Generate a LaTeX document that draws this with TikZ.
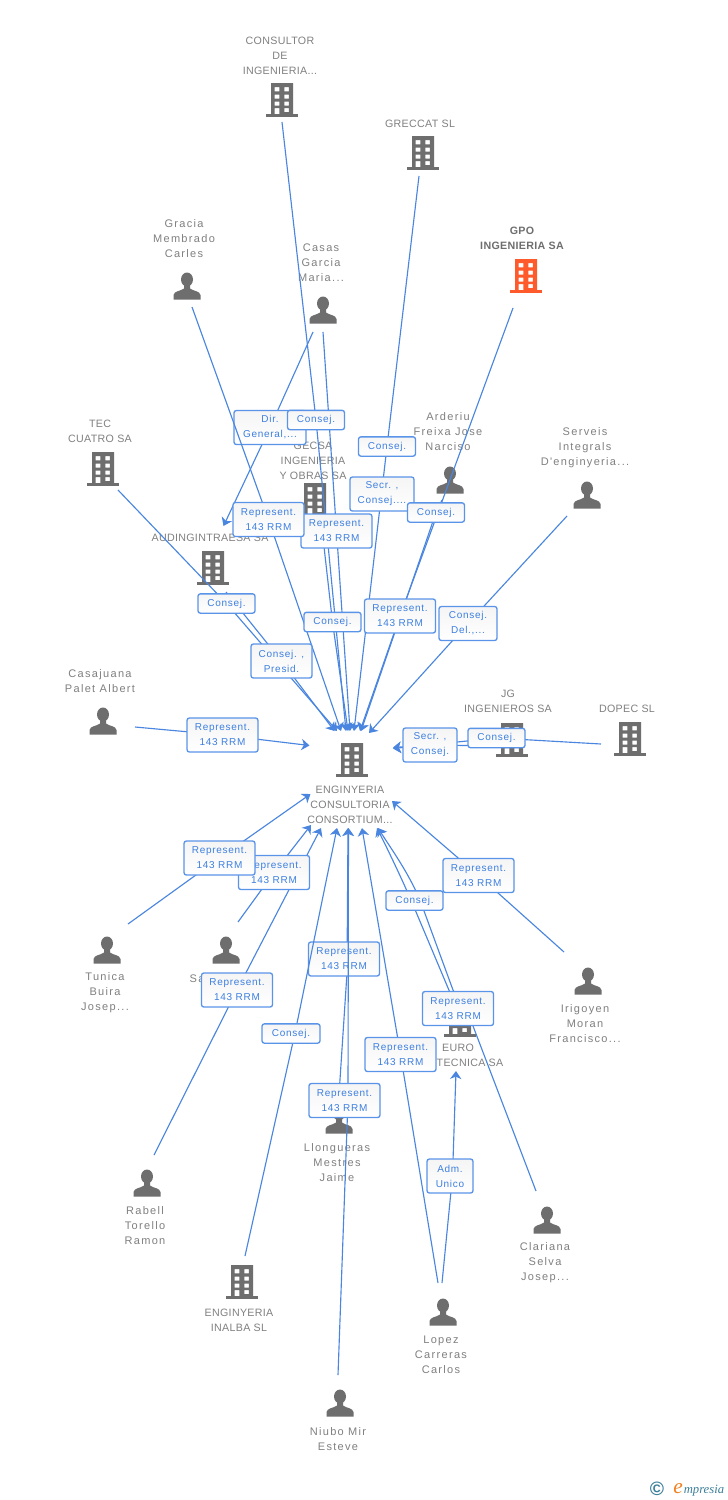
\documentclass[tikz,border=0pt]{standalone}
\usepackage{fontspec}
\setmainfont{Liberation Sans}
\newfontfamily\entfont[LetterSpace=12]{Liberation Sans}
\newfontfamily\cofont[LetterSpace=3]{Liberation Sans}
\newfontfamily\relfont[LetterSpace=7]{Liberation Sans}
\newfontfamily\logofont{Liberation Serif}
\usetikzlibrary{arrows.meta}
\definecolor{icongray}{HTML}{6E6E6E}
\definecolor{txtgray}{HTML}{808080}
\definecolor{gpoorange}{HTML}{FF5A2C}
\definecolor{flowblue}{HTML}{4A86E0}
\definecolor{boxblue}{HTML}{5A94E8}
\definecolor{relblue}{HTML}{3D7FE0}
\definecolor{logoteal}{HTML}{3B7F9A}
\definecolor{logoorange}{HTML}{F08020}
\pgfdeclarelayer{edgesA}\pgfdeclarelayer{boxesA}\pgfdeclarelayer{edgesB}\pgfdeclarelayer{boxesB}
\pgfsetlayers{main,edgesA,boxesA,edgesB,boxesB}
\tikzset{
  x=0.75pt,y=-0.75pt,
  buildingicon/.style={minimum width=24pt,minimum height=25.5pt,inner sep=0pt,outer sep=0pt,
    path picture={
      \begin{scope}[shift={(path picture bounding box.center)}]
        \fill[#1,even odd rule] (-11,-17) rectangle (11,14)
          (-7.3,-13) rectangle (-2.7,-8.7) (2.3,-13) rectangle (6.9,-8.7)
          (-7.3,-5.5) rectangle (-2.7,-1.5) (2.3,-5.5) rectangle (6.9,-1.5)
          (-7.3,1.5) rectangle (-2.7,5.5) (2.3,1.5) rectangle (6.9,5.5)
          (-7.3,8) rectangle (-2.7,14) (2.3,8) rectangle (6.9,12);
        \fill[#1] (-16,14) rectangle (16,17);
      \end{scope}}},
  personicon/.style={minimum width=21pt,minimum height=21pt,inner sep=0pt,outer sep=0pt,
    path picture={
      \begin{scope}[shift={(path picture bounding box.center)}]
        \fill[icongray] (0,-6.5) ellipse (6 and 7);
        \fill[icongray] (-13.5,13.5) -- (-13.5,9) .. controls (-13,5) and (-6,5) .. (-3,2.5)
          -- (-3,-2) -- (3,-2) -- (3,2.5) .. controls (6,5) and (13,5) .. (13.5,9) -- (13.5,13.5) -- cycle;
      \end{scope}}},
  enttext/.style={font=\entfont\fontsize{8.25pt}{11.25pt}\selectfont,text=txtgray,align=center,inner sep=0pt,yshift=-0.5pt},
  cotext/.style={enttext,font=\cofont\fontsize{8pt}{11.25pt}\selectfont},
  relbase/.style={draw=boxblue,line width=1pt,rounded corners=1.8pt,top color=black!4,bottom color=white,
    inner sep=0pt,text=relblue,align=center,font=\relfont\fontsize{7.5pt}{11.25pt}\selectfont},
  relone/.style={relbase,minimum width=#1*0.75pt,minimum height=14.5pt},
  reltwo/.style={relbase,minimum width=#1*0.75pt,minimum height=25.5pt},
  flow/.style={draw=flowblue,line width=0.85pt,line join=round,-{Stealth[length=6pt,width=8.5pt,inset=1.8pt]}},
}
\begin{document}
\begin{tikzpicture}
\useasboundingbox (0,0) rectangle (728,1500);
\fill[white] (0,0) rectangle (728,1500);
% entities
\node[buildingicon=icongray] (consultor) at (282,100) {};
\node[cotext] (consultor-t) at (280,55) {CONSULTOR\\DE\\INGENIERIA...};
\node[buildingicon=icongray] (greccat) at (423,153) {};
\node[cotext] (greccat-t) at (420,123) {GRECCAT SL};
\node[personicon] (gracia) at (187,286) {};
\node[enttext] (gracia-t) at (184,238) {Gracia\\Membrado\\Carles};
\node[buildingicon=gpoorange] (gpo) at (526,276) {};
\node[cotext,font=\cofont\bfseries\fontsize{8pt}{11.25pt}\selectfont,text=icongray] (gpo-t) at (522,237.5) {GPO\\INGENIERIA SA};
\node[personicon] (casas) at (323,310) {};
\node[enttext] (casas-t) at (321,262) {Casas\\Garcia\\Maria...};
\node[buildingicon=icongray] (teccuatro) at (103,469) {};
\node[cotext] (teccuatro-t) at (100,430.5) {TEC\\CUATRO SA};
\node[buildingicon=icongray] (gecsa) at (315,500) {};
\node[cotext] (gecsa-t) at (313,460) {GECSA\\INGENIERIA\\Y OBRAS SA};
\node[personicon] (arderiu) at (450,480) {};
\node[enttext] (arderiu-t) at (448,431) {Arderiu\\Freixa Jose\\Narciso};
\node[personicon] (serveis) at (587,495) {};
\node[enttext] (serveis-t) at (585,447) {Serveis\\Integrals\\D'enginyeria...};
\node[buildingicon=icongray] (audin) at (213,568) {};
\node[cotext] (audin-t) at (210,537) {AUDINGINTRAESA SA};
\node[personicon] (casajuana) at (103,721) {};
\node[enttext] (casajuana-t) at (100,680.5) {Casajuana\\Palet Albert};
\node[buildingicon=icongray] (target) at (352,760) {};
\node[cotext] (target-t) at (350,804) {ENGINYERIA\\CONSULTORIA\\CONSORTIUM...};
\node[buildingicon=icongray] (jg) at (512,740) {};
\node[cotext] (jg-t) at (508,700.5) {JG\\INGENIEROS SA};
\node[buildingicon=icongray] (dopec) at (630,739) {};
\node[cotext] (dopec-t) at (627,708) {DOPEC SL};
\node[personicon] (tunica) at (107,950) {};
\node[enttext] (tunica-t) at (105,992) {Tunica\\Buira\\Josep...};
\node[personicon] (sa) at (226,950) {};
\node[enttext] (sa-t) at (197,978) {Sa};
\node[personicon] (irigoyen) at (588,981) {};
\node[enttext] (irigoyen-t) at (585,1023) {Irigoyen\\Moran\\Francisco...};
\node[buildingicon=icongray] (euro) at (460,1020) {};
\node[cotext] (euro-t) at (470,1055) {EURO\hspace*{18pt}\\TECNICA SA};
\node[personicon] (llongueras) at (339,1120) {};
\node[enttext] (llongueras-t) at (337,1162) {Llongueras\\Mestres\\Jaime};
\node[personicon] (rabell) at (147,1183) {};
\node[enttext] (rabell-t) at (145,1225) {Rabell\\Torello\\Ramon};
\node[personicon] (clariana) at (547,1220) {};
\node[enttext] (clariana-t) at (545,1262) {Clariana\\Selva\\Josep...};
\node[buildingicon=icongray] (inalba) at (242,1282) {};
\node[cotext] (inalba-t) at (239,1319.5) {ENGINYERIA\\INALBA SL};
\node[personicon] (lopez) at (443,1312) {};
\node[enttext] (lopez-t) at (441,1354) {Lopez\\Carreras\\Carlos};
\node[personicon] (niubo) at (340,1403) {};
\node[enttext] (niubo-t) at (338,1438.5) {Niubo Mir\\Esteve};
% logo
\node[inner sep=0pt,text=logoteal,font=\bfseries\fontsize{14.5pt}{14.5pt}\selectfont] (logo-c) at (657,1488.5) {©};
\node[inner sep=0pt,text=logoorange,font=\logofont\itshape\fontsize{16pt}{16pt}\selectfont,anchor=base] (logo-e) at (678,1493.5) {e};
\node[inner sep=0pt,text=logoteal,font=\logofont\itshape\fontsize{9.5pt}{9.5pt}\selectfont,anchor=base west] (logo-t) at (683.5,1493.5) {mpresia};
% free ends of connectors
\foreach \n/\x/\y in {
  o-consultor/282/122, o-greccat/419/176, o-gracia/192/307, o-gpo/513/308,
  o-casasa/313/332, o-casasb/323/332, o-tec/118/490, o-gecsa/321/520,
  o-arderiu/442/500, o-serveis/567/516, o-audin/226/592, o-casajuana/135/727,
  o-jg/500/746, o-dopec/601/744, o-tunica/128/924, o-sa/238/922,
  o-rabell/154/1155, o-inalba/245/1256, o-llong/338/1110, o-niubo/338/1375,
  o-lopeza/438/1283, o-lopezb/442/1283, o-irigoyen/564/952, o-euro/451/995,
  o-clariana/536/1191,
  e-audin/223.5/526,
  a-tec/337/731, a-aud/334.5/731, a-gracia/341/731, a-consultor/346/731,
  a-gecsa/348/731, a-casas/350/731, a-greccat/354/731, a-gpo/360/731,
  a-arderiu/361/731, a-serveis/369/733, a-casajuana/309.5/745.5,
  a-jg/393/747.5, a-dopec/393/748.5,
  b-tunica/310.5/794, b-sa/311/825, b-rabell/321/828, b-inalba/337/828,
  b-llong/348/828, b-niubo/348.5/828, b-lopez/362/828, b-euro/377/828,
  b-clariana/378/828, b-irigoyen/392/801, e-euro/456/1071,
  v-inalba/295/1033, v-llong/347/973, v-niubo/348/1100, v-adm/452.5/1176,
  v-cl1/473/1026, v-cl2/453/990, v-cl3/420/900, v-eu/411/900
}{\coordinate (\n) at (\x,\y);}
% relation boxes drawn below the later connectors
\begin{pgfonlayer}{boxesA}
\node[reltwo=72] (r-dir) at (270,427.5) {Dir.\\General,...};
\node[reltwo=71] (r-llong) at (344,959) {Represent.\\143 RRM};
\end{pgfonlayer}
\begin{pgfonlayer}{boxesB}
\node[relone=57] (r-consultor) at (316,420) {Consej.};
\node[relone=57] (r-greccat) at (387,446.5) {Consej.};
\node[reltwo=64] (r-secr) at (382,494) {Secr. ,\\Consej....};
\node[relone=57] (r-arderiu) at (436,512.5) {Consej.};
\node[reltwo=71] (r-casas) at (336.5,531) {Represent.\\143 RRM};
\node[reltwo=71] (r-gracia) at (268.5,519.5) {Represent.\\143 RRM};
\node[relone=57] (r-tec) at (226.5,603.5) {Consej.};
\node[relone=57] (r-gecsa) at (332.5,622) {Consej.};
\node[reltwo=71] (r-gpo) at (400,616) {Represent.\\143 RRM};
\node[reltwo=58] (r-serveis) at (468,623.5) {Consej.\\Del.,...};
\node[reltwo=61] (r-audin) at (281.5,661) {Consej. ,\\Presid.};
\node[reltwo=71] (r-casajuana) at (222.5,735) {Represent.\\143 RRM};
\node[reltwo=71] (r-sa) at (274,872.5) {Represent.\\143 RRM};
\node[reltwo=71] (r-tunica) at (219.5,858) {Represent.\\143 RRM};
\node[reltwo=54] (r-jg) at (430,745) {Secr. ,\\Consej.};
\node[relone=57] (r-dopec) at (496.5,738) {Consej.};
\node[relone=57] (r-euro) at (414.5,900.5) {Consej.};
\node[reltwo=71] (r-irigoyen) at (478.5,875.5) {Represent.\\143 RRM};
\node[reltwo=71] (r-rabell) at (237,990) {Represent.\\143 RRM};
\node[relone=58] (r-inalba) at (291,1033.5) {Consej.};
\node[reltwo=71] (r-clariana) at (458,1008.5) {Represent.\\143 RRM};
\node[reltwo=71] (r-lopez) at (400.5,1054.5) {Represent.\\143 RRM};
\node[reltwo=71] (r-niubo) at (344.5,1100.5) {Represent.\\143 RRM};
\node[reltwo=46] (r-adm) at (450,1176) {Adm.\\Unico};
\end{pgfonlayer}
% connectors
\begin{pgfonlayer}{edgesA}
\draw[flow] (o-casasa) -- (r-dir.center) -- (e-audin);
\draw[flow] (o-llong) -- (v-llong) -- (b-llong);
\end{pgfonlayer}
\begin{pgfonlayer}{edgesB}
\draw[flow] (o-consultor) -- (r-consultor.center) -- (a-consultor);
\draw[flow] (o-greccat) -- (r-greccat.center) -- (a-greccat);
\draw[flow] (o-gracia) -- (r-gracia.center) -- (a-gracia);
\draw[flow] (o-gpo) -- (r-gpo.center) -- (a-gpo);
\draw[flow] (o-casasb) -- (r-casas.center) -- (a-casas);
\draw[flow] (o-tec) -- (r-tec.center) -- (a-tec);
\draw[flow] (o-gecsa) -- (r-gecsa.center) -- (a-gecsa);
\draw[flow] (o-arderiu) -- (r-arderiu.center) -- (a-arderiu);
\draw[flow] (o-serveis) -- (r-serveis.center) -- (a-serveis);
\draw[flow] (o-audin) -- (r-audin.center) -- (a-aud);
\draw[flow] (o-casajuana) -- (r-casajuana.center) -- (a-casajuana);
\draw[flow] (o-jg) -- (r-jg.center) -- (a-jg);
\draw[flow] (o-dopec) -- (r-dopec.center) -- (a-dopec);
\draw[flow] (o-tunica) -- (r-tunica.center) -- (b-tunica);
\draw[flow] (o-sa) -- (r-sa.center) -- (b-sa);
\draw[flow] (o-rabell) -- (r-rabell.center) -- (b-rabell);
\draw[flow] (o-inalba) -- (v-inalba) -- (b-inalba);
\draw[flow] (o-niubo) -- (v-niubo) -- (b-niubo);
\draw[flow] (o-lopeza) -- (r-lopez.center) -- (b-lopez);
\draw[flow] (o-lopezb) -- (v-adm) -- (e-euro);
\draw[flow] (o-irigoyen) -- (r-irigoyen.center) -- (b-irigoyen);
\draw[flow] (o-euro) -- (v-eu) .. controls (400,875) and (388,850) .. (b-euro);
\draw[flow] (o-clariana) -- (v-cl1) -- (v-cl2) -- (v-cl3) .. controls (408,872) and (392,850) .. (b-clariana);
\end{pgfonlayer}
\end{tikzpicture}
\end{document}
